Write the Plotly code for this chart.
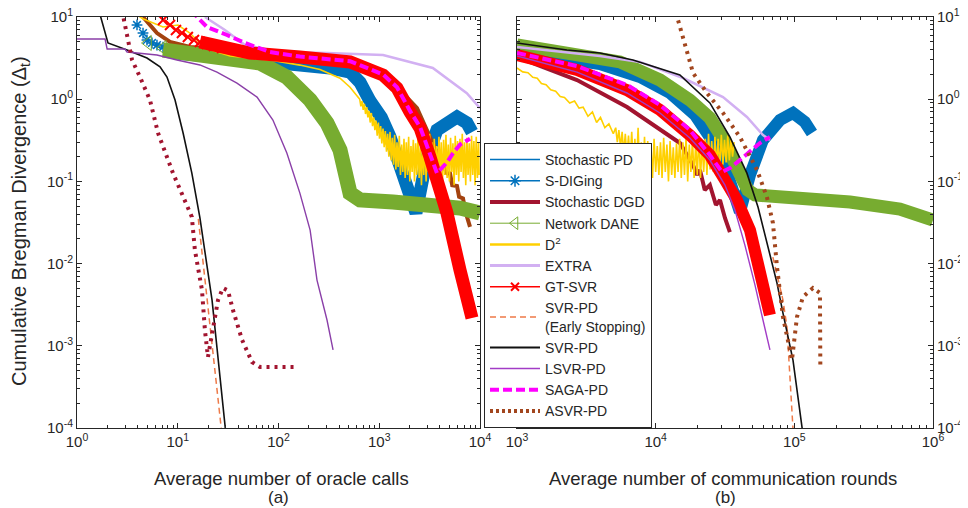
import plotly.graph_objects as go

# ---------------- (a) oracle calls ----------------
spd_a_x = [9.83, 26.3, 65.5, 163, 325, 513, 645, 810, 1050, 1280, 1720, 2160, 2315, 2980, 3740, 5910, 7430, 8330]
spd_a_y = [3.65, 3.26, 3.0, 2.75, 2.4, 2.14, 1.6, 0.95, 0.6, 0.347, 0.126, 0.049, 0.0413, 0.198, 0.422, 0.607, 0.513, 0.398]
sdig_mk_a_x = [3.94, 4.52, 4.95, 5.55, 6.22, 7.14, 8.38, 9.83, 11.8]
sdig_mk_a_y = [8.0, 6.38, 5.25, 4.83, 4.56, 4.31, 4.2, 3.97, 3.75]

dgd_a_x = [4.52, 6.22, 8.38, 13.2, 33, 163, 513, 1090, 1610, 2370, 3190, 3570, 4700, 5040, 5300, 5910, 6200, 6780, 7200, 7960]
dgd_a_y = [10, 6.38, 4.97, 4.31, 3.97, 3.4, 3.0, 2.14, 1.29, 0.78, 0.347, 0.262, 0.126, 0.125, 0.09, 0.088, 0.065, 0.062, 0.042, 0.028]

dane_a_x = [7.14, 16.6, 33, 65.5, 121, 206, 303, 408, 513, 645, 1370, 2980, 6330, 10000]
dane_a_y = [3.97, 3.55, 3.26, 2.75, 1.86, 0.977, 0.513, 0.241, 0.072, 0.0594, 0.0561, 0.053, 0.0474, 0.0413]
dane_mk_a_x = [5.07, 7.14]
dane_mk_a_y = [4.83, 4.2]

d2_a_x = [3.4, 4.5, 7.14, 10.05, 13.2, 18.6, 33, 82, 163, 258, 408, 513, 600,
          640, 657, 675, 693, 712, 731, 751, 771, 792, 813,
          835, 858, 881, 905, 929, 954, 980, 1006, 1033, 1061,
          1090, 1119, 1149, 1180, 1212, 1245, 1279, 1313, 1349, 1385,
          1422, 1461, 1500, 1540, 1582, 1625, 1669, 1714, 1760, 1807,
          1856, 1906, 1958, 2011, 2065, 2120, 2178, 2236, 2297, 2359,
          2422, 2488, 2555, 2624, 2695, 2767, 2842, 2919, 2998, 3079,
          3162, 3247, 3335, 3425, 3517, 3612, 3710, 3810, 3913, 4018,
          4127, 4238, 4353, 4470, 4591, 4715, 4842, 4973, 5107, 5245,
          5386, 5532, 5681, 5834, 5992, 6153, 6319, 6490, 6665, 6845,
          7030, 7220, 7415, 7615, 7820, 8031, 8248, 8471, 8700, 8935,
          9176, 9424, 9678, 9800]
d2_a_y = [12, 9.5, 7.55, 8.0, 6.38, 4.2, 3.36, 3.0, 2.6, 2.3, 1.8, 1.4, 1.1,
          1.0, 0.82, 0.95, 0.74, 0.88, 0.66, 0.8, 0.6, 0.72, 0.52,
          0.68, 0.47, 0.6, 0.42, 0.55, 0.36, 0.52, 0.33, 0.47, 0.29,
          0.44, 0.26, 0.41, 0.23, 0.38, 0.2, 0.4, 0.18, 0.34, 0.16,
          0.37, 0.14, 0.3, 0.15, 0.36, 0.12, 0.28, 0.13, 0.33, 0.11,
          0.3, 0.12, 0.35, 0.1, 0.27, 0.13, 0.32, 0.1, 0.29, 0.12,
          0.36, 0.11, 0.26, 0.09, 0.31, 0.12, 0.34, 0.1, 0.28, 0.13,
          0.38, 0.11, 0.3, 0.09, 0.33, 0.12, 0.27, 0.1, 0.35, 0.13,
          0.3, 0.09, 0.32, 0.12, 0.37, 0.11, 0.28, 0.1, 0.34, 0.13,
          0.29, 0.09, 0.36, 0.12, 0.31, 0.1, 0.33, 0.13, 0.38, 0.11,
          0.3, 0.09, 0.34, 0.12, 0.29, 0.1, 0.36, 0.12, 0.31, 0.09,
          0.35, 0.11, 0.3, 0.12]

extra_a_x = [18.6, 29.4, 46.5, 103, 303, 1090, 3400, 7400, 10000]
extra_a_y = [10, 6.95, 4.56, 3.75, 3.65, 3.45, 2.4, 1.18, 0.78]

gt_a_x = [16.6, 52, 163, 513, 1090, 1500, 2020, 2540, 3190, 3740, 4300, 4700, 6330, 8330]
gt_a_y = [4.97, 3.65, 3.26, 2.84, 1.97, 1.37, 0.70, 0.447, 0.198, 0.113, 0.059, 0.0413, 0.00835, 0.00218]
gt_mk_a_x = [7.14, 8.38, 9.6, 11.0, 12.6, 14.5, 16.6, 19.5, 22.9, 27.5]
gt_mk_a_y = [9.2, 8.0, 6.95, 6.38, 5.71, 5.25, 4.97, 4.7, 4.44, 4.2]

es_a_x = [16.0, 19.5, 27.0, 27.8]
es_a_y = [0.035, 0.0036, 1.0e-4, 0.8e-4]

svr_a_x = [1.62, 2.03, 3.14, 4.95, 6.67, 7.82, 9.4, 11.3, 13.8, 16.6, 21.9, 29.4, 30.2]
svr_a_y = [13, 4.83, 3.97, 3.17, 2.47, 1.86, 0.977, 0.388, 0.126, 0.0359, 0.0036, 1.0e-4, 0.8e-4]

lsvr_a_x = [1.0, 1.90, 1.99, 2.99, 3.14, 6.22, 9.83, 16.6, 24.5, 38.7, 61.2, 88, 121, 163, 206, 241, 303, 348]
lsvr_a_y = [5.4, 5.4, 4.08, 4.08, 3.75, 3.45, 3.0, 2.61, 2.14, 1.57, 1.06, 0.558, 0.221, 0.072, 0.0256, 0.0063, 0.00206, 0.00089]

saga_a_x = [13.5, 19.5, 30.8, 46.5, 82, 163, 513, 1090, 1500, 2020, 2540, 3190, 3740, 4700, 5400, 6330, 7430, 7960]
saga_a_y = [12, 7.55, 6.04, 4.83, 3.75, 3.3, 2.9, 2.0, 1.4, 0.72, 0.46, 0.21, 0.126, 0.17, 0.221, 0.28, 0.319, 0.33]

asvr_a_x = [2.80, 3.21, 3.52, 4.22, 5.3, 6.37, 8.97, 13.8, 14.8, 17.4, 18.6, 19.95, 21.9, 25.1, 28.1, 31.5, 35.3, 43.5, 54.6, 65.5, 156]
asvr_a_y = [12, 4.83, 3.0, 1.86, 0.977, 0.388, 0.126, 0.037, 0.0146, 0.00477, 0.00156, 0.00073, 0.00143, 0.0036, 0.00505, 0.0047, 0.00273, 0.00118, 0.000635, 0.000552, 0.000552]

# ---------------- (b) communication rounds ----------------
spd_b_x = [1000, 2040, 3960, 7710, 12680, 19200, 26800, 33200, 38500, 40500, 47900, 59400, 78800, 97800, 119000, 134000]
spd_b_y = [3.75, 3.26, 2.68, 1.86, 1.19, 0.643, 0.277, 0.12, 0.0516, 0.0425, 0.12, 0.319, 0.558, 0.68, 0.528, 0.388]

dgd_b_x = [1000, 2710, 6210, 10740, 14950, 18600, 19900, 20850, 22600, 24600, 27200, 29100, 31600, 34300]
dgd_b_y = [3.26, 1.71, 0.803, 0.422, 0.293, 0.158, 0.12, 0.138, 0.0785, 0.0903, 0.0516, 0.0594, 0.0359, 0.0242]

dane_b_x = [1000, 2710, 5530, 10740, 17650, 24600, 31600, 39200, 46200, 52000, 109600, 252000, 577000, 1000000]
dane_b_y = [4.56, 3.65, 2.84, 1.71, 0.977, 0.59, 0.301, 0.138, 0.0785, 0.0684, 0.0628, 0.0561, 0.0461, 0.0339]

d2_b_x = [1000, 1100, 1200, 1300, 1400, 1500, 1620, 1750, 1900, 2050, 2200, 2400, 2600, 2800, 3000, 3250,
          3500, 3750, 4000, 4300, 4600, 4950,
          5150, 5290, 5430, 5580, 5730, 5880, 6040, 6200, 6370, 6540,
          6720, 6900, 7080, 7270, 7470, 7670, 7880, 8090, 8310, 8530,
          8760, 9000, 9240, 9490, 9740, 10000, 10270, 10550, 10830, 11120,
          11420, 11730, 12050, 12370, 12700, 13050, 13400, 13760, 14130, 14510,
          14900, 15300, 15710, 16140, 16570, 17020, 17480, 17950, 18430, 18930,
          19440, 19960, 20500, 21050, 21620, 22200, 22800, 23420, 24050, 24700,
          25360, 26050, 26750, 27470, 28210, 28970, 29750, 30550, 31380, 32220,
          33090, 33980, 34900, 35840, 36800]
d2_b_y = [2.4, 2.15, 2.1, 1.85, 1.8, 1.55, 1.5, 1.3, 1.25, 1.08, 1.05, 0.9, 0.95, 0.78, 0.8, 0.62,
          0.7, 0.52, 0.6, 0.45, 0.5, 0.38,
          0.45, 0.3, 0.42, 0.26, 0.4, 0.22, 0.38, 0.2, 0.36, 0.18,
          0.4, 0.16, 0.33, 0.15, 0.45, 0.14, 0.3, 0.13, 0.35, 0.12,
          0.31, 0.14, 0.28, 0.11, 0.33, 0.13, 0.27, 0.12, 0.3, 0.11,
          0.34, 0.13, 0.28, 0.1, 0.31, 0.12, 0.26, 0.11, 0.29, 0.13,
          0.33, 0.11, 0.3, 0.12, 0.35, 0.1, 0.28, 0.13, 0.32, 0.11,
          0.3, 0.12, 0.36, 0.11, 0.29, 0.13, 0.33, 0.12, 0.38, 0.14,
          0.31, 0.13, 0.35, 0.15, 0.33, 0.14, 0.37, 0.16, 0.32, 0.17,
          0.36, 0.18, 0.33, 0.2, 0.3]

extra_b_x = [1000, 2290, 3960, 7710, 15740, 30600, 45500, 59400, 66700]
extra_b_y = [4.31, 3.75, 3.36, 2.84, 1.81, 1.06, 0.607, 0.366, 0.319]

gt_b_x = [1000, 2710, 6210, 10740, 17650, 24600, 31600, 38500, 47900, 56500, 66700]
gt_b_y = [3.45, 2.27, 1.29, 0.74, 0.366, 0.209, 0.104, 0.0594, 0.0256, 0.00835, 0.00237]

es_b_x = [70000, 82800, 88500, 98500]
es_b_y = [0.012, 0.0036, 0.00169, 0.8e-4]

svr_b_x = [1000, 2290, 3960, 6860, 14950, 24600, 34300, 45500, 54700, 75000, 82800, 97800, 113500, 116000]
svr_b_y = [4.83, 3.97, 3.65, 3.0, 1.97, 0.9, 0.347, 0.126, 0.0489, 0.0058, 0.0025, 0.00067, 1.03e-4, 0.8e-4]

lsvr_b_x = [1000, 2710, 6210, 10740, 17650, 24600, 31600, 37300, 44000, 52000, 59400, 66700]
lsvr_b_y = [3.36, 2.14, 1.19, 0.68, 0.337, 0.182, 0.0903, 0.0449, 0.0168, 0.0055, 0.00206, 0.00089]

saga_b_x = [1000, 2710, 6210, 10740, 17650, 24600, 30100, 34300, 40500, 47900, 56500, 66700]
saga_b_y = [3.65, 2.53, 1.49, 0.85, 0.422, 0.209, 0.13, 0.145, 0.182, 0.228, 0.293, 0.347]

asvr_b_x = [13500, 16830, 18600, 23400, 30600, 40500, 53800, 63400, 70100, 75000, 82800, 93000, 96100, 104500, 115400, 136200, 153000, 154000]
asvr_b_y = [14, 3.97, 2.09, 1.19, 0.68, 0.347, 0.138, 0.0646, 0.0312, 0.0091, 0.00224, 0.00089, 0.00067, 0.00224, 0.00393, 0.00505, 0.00438, 0.00055]

legend_names = ["Stochastic PD", "S-DIGing", "Stochastic DGD", "Network DANE", "D<sup>2</sup>", "EXTRA",
                "GT-SVR", "SVR-PD<br>(Early Stopping)", "SVR-PD", "LSVR-PD", "SAGA-PD", "ASVR-PD"]

BLUE = "#0072BD"
MAROON = "#A2142F"
BROWN = "#A3420F"
GREEN = "#77AC30"
YELLOW = "#FFD000"
LAV = "#D2B0F2"
RED = "#FF0000"
ORANGE = "#EE7A48"
BLACK = "#111111"
PURPLE = "#A23CC6"
MAGENTA = "#FF00FF"
ASVR_B = "#A2461E"

fig = go.Figure()


def add(x, y, ax, **kw):
    fig.add_trace(go.Scatter(x=x, y=y, xaxis=ax[0], yaxis=ax[1], showlegend=False,
                             hoverinfo="skip", **kw))


A = ("x", "y")
B = ("x2", "y2")

# panel (a)
add(spd_a_x, spd_a_y, A, mode="lines", line=dict(color=BLUE, width=13))
add(sdig_mk_a_x, sdig_mk_a_y, A, mode="markers", marker=dict(symbol="asterisk-open", size=9, color=BLUE, line=dict(width=1.5, color=BLUE)))
add(dgd_a_x, dgd_a_y, A, mode="lines", line=dict(color=BROWN, width=4))
add(dane_a_x, dane_a_y, A, mode="lines", line=dict(color=GREEN, width=15))
add(dane_mk_a_x, dane_mk_a_y, A, mode="markers", marker=dict(symbol="triangle-left-open", size=13, color=GREEN, line=dict(width=1, color=GREEN)))
add(d2_a_x, d2_a_y, A, mode="lines", line=dict(color=YELLOW, width=1.6))
add(extra_a_x, extra_a_y, A, mode="lines", line=dict(color=LAV, width=2.5))
add(gt_a_x, gt_a_y, A, mode="lines", line=dict(color=RED, width=13))
add(gt_mk_a_x, gt_mk_a_y, A, mode="markers", marker=dict(symbol="x-thin-open", size=10, color=RED, line=dict(width=2, color=RED)))
add(es_a_x, es_a_y, A, mode="lines", line=dict(color=ORANGE, width=1.5, dash="6px,4px"))
add(svr_a_x, svr_a_y, A, mode="lines", line=dict(color=BLACK, width=1.6))
add(lsvr_a_x, lsvr_a_y, A, mode="lines", line=dict(color="#8A3FA8", width=1.4))
add(saga_a_x, saga_a_y, A, mode="lines", line=dict(color=MAGENTA, width=4, dash="9px,4px"))
add(asvr_a_x, asvr_a_y, A, mode="lines", line=dict(color=MAROON, width=4, dash="3px,5px"))

# panel (b)
add(spd_b_x, spd_b_y, B, mode="lines", line=dict(color=BLUE, width=12))
add(dgd_b_x, dgd_b_y, B, mode="lines", line=dict(color=MAROON, width=4))
add(dane_b_x, dane_b_y, B, mode="lines", line=dict(color=GREEN, width=13))
add(d2_b_x, d2_b_y, B, mode="lines", line=dict(color=YELLOW, width=1.6))
add(extra_b_x, extra_b_y, B, mode="lines", line=dict(color=LAV, width=2.5))
add(gt_b_x, gt_b_y, B, mode="lines", line=dict(color=RED, width=12))
add(es_b_x, es_b_y, B, mode="lines", line=dict(color=ORANGE, width=1.5, dash="6px,4px"))
add(svr_b_x, svr_b_y, B, mode="lines", line=dict(color=BLACK, width=1.6))
add(lsvr_b_x, lsvr_b_y, B, mode="lines", line=dict(color=PURPLE, width=1.4))
add(saga_b_x, saga_b_y, B, mode="lines", line=dict(color=MAGENTA, width=4, dash="9px,4px"))
add(asvr_b_x, asvr_b_y, B, mode="lines", line=dict(color=ASVR_B, width=4, dash="3px,5px"))

# legend entries
leg_styles = [
    dict(mode="lines", line=dict(color=BLUE, width=1.5)),
    dict(mode="lines+markers", line=dict(color=BLUE, width=1.5), marker=dict(symbol="asterisk-open", size=10, color=BLUE, line=dict(width=1.5, color=BLUE))),
    dict(mode="lines", line=dict(color=MAROON, width=4)),
    dict(mode="lines+markers", line=dict(color=GREEN, width=1), marker=dict(symbol="triangle-left-open", size=11, color=GREEN, line=dict(width=1, color=GREEN))),
    dict(mode="lines", line=dict(color=YELLOW, width=2.5)),
    dict(mode="lines", line=dict(color=LAV, width=3)),
    dict(mode="lines+markers", line=dict(color=RED, width=1.5), marker=dict(symbol="x-thin-open", size=8, color=RED, line=dict(width=2, color=RED))),
    dict(mode="lines", line=dict(color=ORANGE, width=1.5, dash="6px,4px")),
    dict(mode="lines", line=dict(color=BLACK, width=2)),
    dict(mode="lines", line=dict(color=PURPLE, width=1.5)),
    dict(mode="lines", line=dict(color=MAGENTA, width=4, dash="9px,4px")),
    dict(mode="lines", line=dict(color=ASVR_B, width=4, dash="3px,3px")),
]
for name, st in zip(legend_names, leg_styles):
    fig.add_trace(go.Scatter(x=[None], y=[None], name=name, showlegend=True, xaxis="x", yaxis="y", **st))

sup = {1: "10<sup>1</sup>", 0: "10<sup>0</sup>", -1: "10<sup>-1</sup>", -2: "10<sup>-2</sup>",
       -3: "10<sup>-3</sup>", -4: "10<sup>-4</sup>", 2: "10<sup>2</sup>", 3: "10<sup>3</sup>",
       4: "10<sup>4</sup>", 5: "10<sup>5</sup>", 6: "10<sup>6</sup>"}


def minor_vals(lo, hi):
    return [m * 10 ** e for e in range(lo, hi) for m in range(2, 10)]


# the page body has an 8px margin: figure is 960x500 and reference pixels are offset by 8
W, H, OFF = 960, 500, 8


def px(X):
    return (X - OFF) / W


def py(Y):
    return 1 - (Y - OFF) / H


AXC = "#262626"
FONT = "Liberation Sans"
common = dict(type="log", showgrid=False, zeroline=False, showline=True, linecolor=AXC, linewidth=1,
              mirror="allticks", ticks="inside", ticklen=5, tickcolor=AXC, tickwidth=1, automargin=False,
              ticklabeloverflow="allow", tickfont=dict(family=FONT, size=15, color=AXC))

y_dom = [py(428), py(17)]
fig.update_layout(
    width=W, height=H, margin=dict(l=0, r=0, t=0, b=0, autoexpand=False),
    paper_bgcolor="white", plot_bgcolor="white",
    xaxis=dict(domain=[px(77), px(480)], range=[0, 4], anchor="y",
               tickmode="array", tickvals=[10 ** e for e in range(0, 5)], ticktext=[sup[e] for e in range(0, 5)],
               minor=dict(tickmode="array", tickvals=minor_vals(0, 4), ticks="inside", ticklen=3, tickcolor=AXC),
               **common),
    yaxis=dict(domain=y_dom, range=[-4, 1], anchor="x",
               tickmode="array", tickvals=[10 ** e for e in range(-4, 2)], ticktext=[sup[e] for e in range(-4, 2)],
               minor=dict(tickmode="array", tickvals=minor_vals(-4, 1), ticks="inside", ticklen=3, tickcolor=AXC),
               **common),
    xaxis2=dict(domain=[px(517), px(933)], range=[3, 6], anchor="y2",
                tickmode="array", tickvals=[10 ** e for e in range(3, 7)], ticktext=[sup[e] for e in range(3, 7)],
                minor=dict(tickmode="array", tickvals=minor_vals(3, 6), ticks="inside", ticklen=3, tickcolor=AXC),
                **common),
    yaxis2=dict(domain=y_dom, range=[-4, 1], anchor="x2", side="right",
                tickmode="array", tickvals=[10 ** e for e in range(-4, 2)], ticktext=[sup[e] for e in range(-4, 2)],
                minor=dict(tickmode="array", tickvals=minor_vals(-4, 1), ticks="inside", ticklen=3, tickcolor=AXC),
                **common),
    legend=dict(x=px(484), y=py(428), xanchor="left", yanchor="bottom",
                bgcolor="white", bordercolor=AXC, borderwidth=1,
                font=dict(family=FONT, size=14, color=AXC), tracegroupgap=0, itemwidth=50),
    showlegend=True,
)

ann_font = dict(family=FONT, size=18.5, color=AXC)
for xc, txt in [(281, "Average number of oracle calls"), (723, "Average number of communication rounds")]:
    fig.add_annotation(x=px(xc), y=py(478), xref="paper", yref="paper", text=txt,
                       xanchor="center", yanchor="middle", showarrow=False, font=ann_font)
for xc, txt in [(278, "(a)"), (725, "(b)")]:
    fig.add_annotation(x=px(xc), y=py(497), xref="paper", yref="paper", text=txt,
                       xanchor="center", yanchor="middle", showarrow=False, font=dict(family=FONT, size=17, color=AXC))
fig.add_annotation(x=px(21), y=py(221), xref="paper", yref="paper",
                   text="Cumulative Bregman Divergence (Δ<sub>t</sub>)", textangle=-90,
                   xanchor="center", yanchor="middle", showarrow=False, font=dict(family=FONT, size=20, color=AXC))

fig.write_html("out.html")
